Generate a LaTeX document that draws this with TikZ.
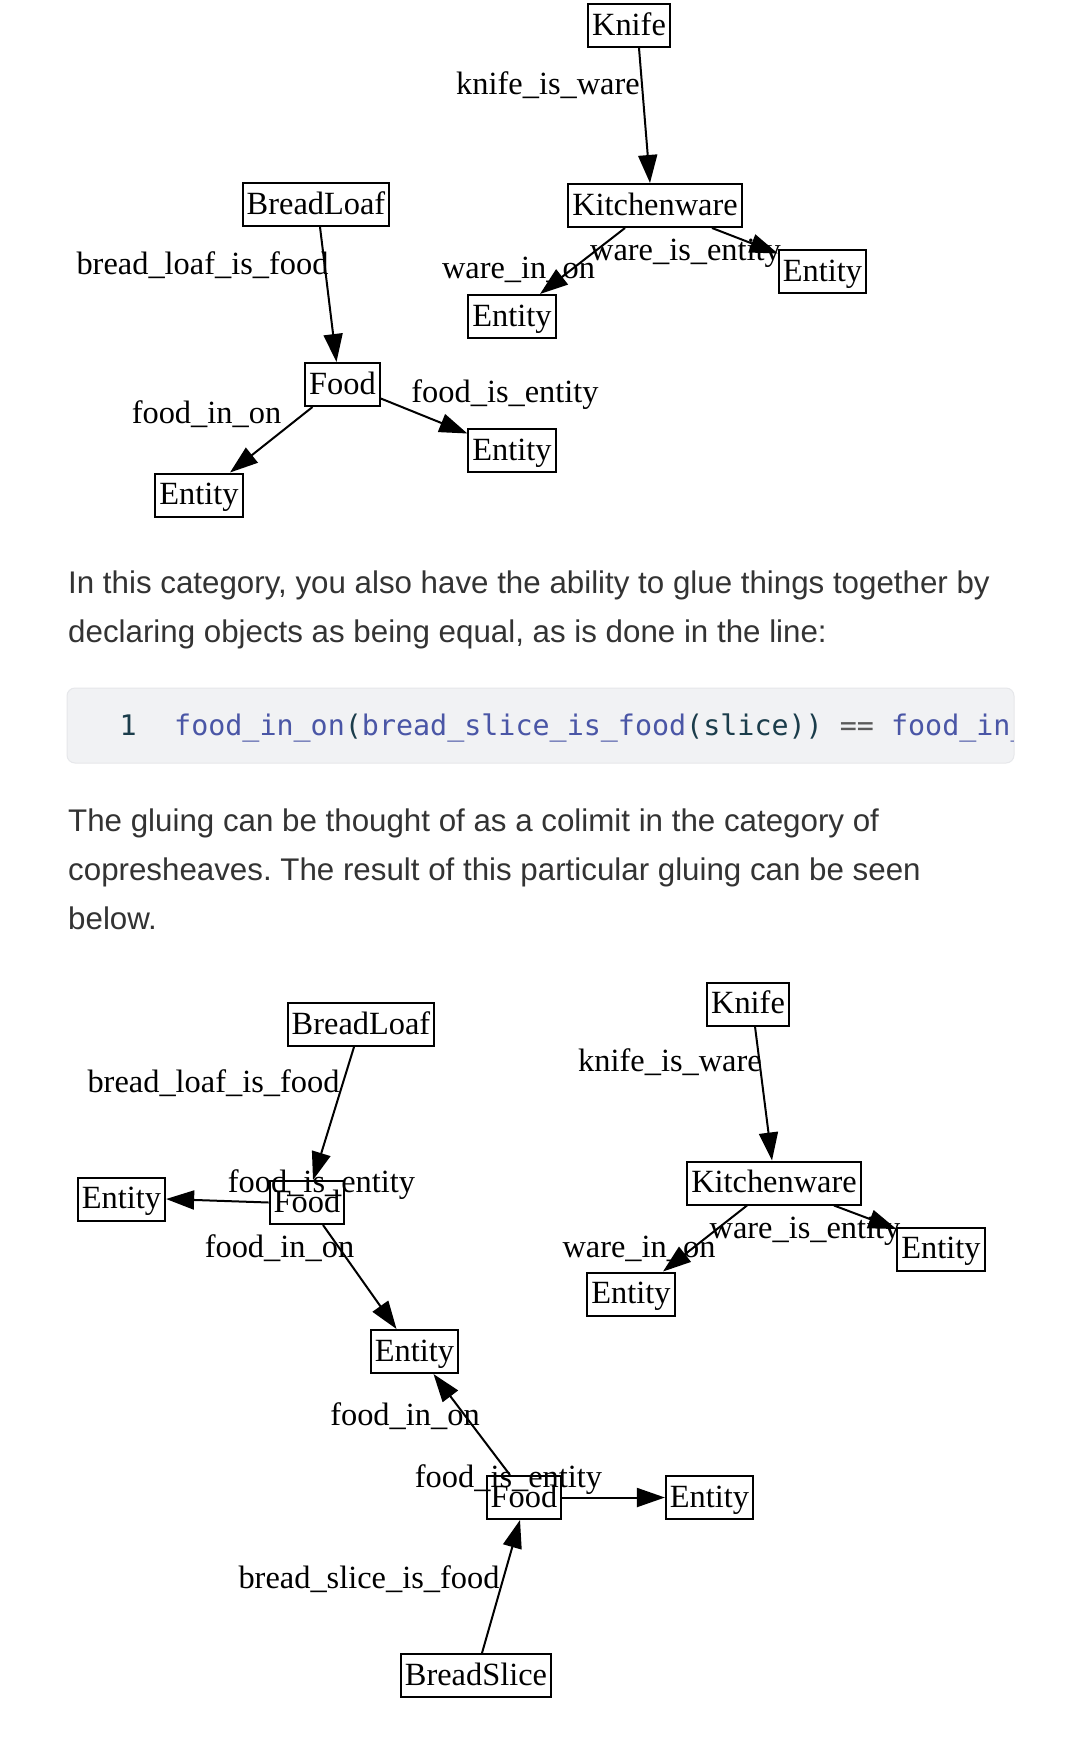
\documentclass[tikz,border=0pt]{standalone}
\usepackage{fontspec}
\setmainfont{Liberation Serif}
\newfontfamily\parafont{Liberation Sans}
\newfontfamily\codefont{DejaVu Sans Mono}
\usetikzlibrary{arrows.meta}
\definecolor{paratext}{HTML}{333333}
\definecolor{codebg}{HTML}{F1F2F4}
\definecolor{codeborder}{HTML}{E6E7EA}
\definecolor{codeblue}{HTML}{4A56A6}
\definecolor{codedark}{HTML}{1B3D4B}
\definecolor{codegray}{HTML}{5A5A5A}
\frenchspacing
\begin{document}
\begin{tikzpicture}[x=1pt,y=-1pt,
  box/.style={draw, line width=2pt, inner xsep=4pt, inner ysep=0pt, minimum height=43pt,
    text height=19pt, text depth=0pt, font=\fontsize{32.4}{36}\selectfont},
  lbl/.style={inner sep=0pt, anchor=base, font=\fontsize{32.4}{36}\selectfont},
  edge/.style={draw, line width=2pt, -{Triangle[length=28pt,width=19pt]}},
  para/.style={inner sep=0pt, anchor=base west, text=paratext, font=\parafont\fontsize{31.3}{36}\selectfont},
  code/.style={inner sep=0pt, anchor=base west, font=\codefont\fontsize{28.35}{32}\selectfont},
]
\useasboundingbox (0,0) rectangle (1080,1764);
\fill[white] (0,0) rectangle (1080,1764);

% ---------- top graph ----------
\node[box] (knife) at (629,25.5) {Knife};
\node[box] (kw) at (655,205.5) {Kitchenware};
\node[box] (ekR) at (822.5,271.5) {Entity};
\node[box] (ekL) at (512,316.5) {Entity};
\node[box] (loaf) at (316,204.5) {BreadLoaf};
\node[box] (food) at (342.5,384.5) {Food};
\node[box] (efL) at (199,495) {Entity};
\node[box] (efR) at (512,450.5) {Entity};

\node[lbl] (l1) at (548,94) {knife\_is\_ware};
\node[lbl] (l2) at (685.5,260) {ware\_is\_entity};
\node[lbl] (l3) at (518.5,278) {ware\_in\_on};
\node[lbl] (l4) at (202.5,274) {bread\_loaf\_is\_food};
\node[lbl] (l5) at (206.5,423) {food\_in\_on};
\node[lbl] (l6) at (505,402) {food\_is\_entity};

\draw[edge] ([xshift=10pt]knife.south) -- ([xshift=-5pt]kw.north);
\draw[edge] ([xshift=-30pt]kw.south) -- ([xshift=28pt]ekL.north);
\draw[edge] ([xshift=57pt]kw.south) -- ([yshift=18pt]ekR.west);
\draw[edge] ([xshift=4pt]loaf.south) -- ([xshift=-6pt]food.north);
\draw[edge] ([xshift=-30pt]food.south) -- ([xshift=31pt]efL.north);
\draw[edge] ([yshift=-14pt]food.east) -- ([yshift=17pt]efR.west);

% ---------- text ----------
\node[para] (p1) at (68,593) {In this category, you also have the ability to glue things together by};
\node[para] (p2) at (68,642) {declaring objects as being equal, as is done in the line:};

\draw[codeborder, fill=codebg, line width=1pt, rounded corners=8pt] (67,688) rectangle (1014,763);
\node[code, text=codedark] (ln) at (119.5,735) {1};
\begin{scope}
\clip (67,688) rectangle (1013,763);
\node[code] (codeline) at (174,735) {\textcolor{codeblue}{food\_in\_on}\textcolor{codedark}{(}\textcolor{codeblue}{bread\_slice\_is\_food}\textcolor{codedark}{(slice))} \textcolor{codegray}{==} \textcolor{codeblue}{food\_in\_on}};
\end{scope}

\node[para] (p3) at (68,831) {The gluing can be thought of as a colimit in the category of};
\node[para] (p4) at (68,880) {copresheaves. The result of this particular gluing can be seen};
\node[para] (p5) at (68,929) {below.};

% ---------- bottom graph ----------
\node[box] (loaf2) at (361,1024.5) {BreadLoaf};
\node[box] (food2) at (307,1202.5) {Food};
\node[box] (eL2) at (121.5,1199) {Entity};
\node[box] (eM2) at (414.5,1351.5) {Entity};
\node[box] (food3) at (524,1497.5) {Food};
\node[box] (eR3) at (709.5,1497.5) {Entity};
\node[box] (slice) at (476,1675.5) {BreadSlice};
\node[box] (knife2) at (748,1004) {Knife};
\node[box] (kw2) at (774,1183) {Kitchenware};
\node[box] (ekR2) at (941,1249) {Entity};
\node[box] (ekL2) at (631,1294) {Entity};

\node[lbl] (m1) at (213.5,1092) {bread\_loaf\_is\_food};
\node[lbl] (m2) at (321.5,1192) {food\_is\_entity};
\node[lbl] (m3) at (279.5,1257) {food\_in\_on};
\node[lbl] (m4) at (405,1425) {food\_in\_on};
\node[lbl] (m5) at (508.5,1487) {food\_is\_entity};
\node[lbl] (m6) at (369,1588) {bread\_slice\_is\_food};
\node[lbl] (m7) at (670,1071) {knife\_is\_ware};
\node[lbl] (m8) at (805,1238) {ware\_is\_entity};
\node[lbl] (m9) at (639,1257) {ware\_in\_on};

\draw[edge] ([xshift=-7pt]loaf2.south) -- ([xshift=6pt]food2.north);
\draw[edge] (food2.west) -- (eL2.east);
\draw[edge] ([xshift=16pt]food2.south) -- ([xshift=-18pt]eM2.north);
\draw[edge] ([xshift=-14pt]food3.north) -- ([xshift=19pt]eM2.south);
\draw[edge] (food3.east) -- (eR3.west);
\draw[edge] ([xshift=6pt]slice.north) -- ([xshift=-4pt]food3.south);
\draw[edge] ([xshift=7pt]knife2.south) -- ([xshift=-2pt]kw2.north);
\draw[edge] ([xshift=-27pt]kw2.south) -- ([xshift=32pt]ekL2.north);
\draw[edge] ([xshift=60pt]kw2.south) -- ([yshift=20pt]ekR2.west);
\end{tikzpicture}
\end{document}
